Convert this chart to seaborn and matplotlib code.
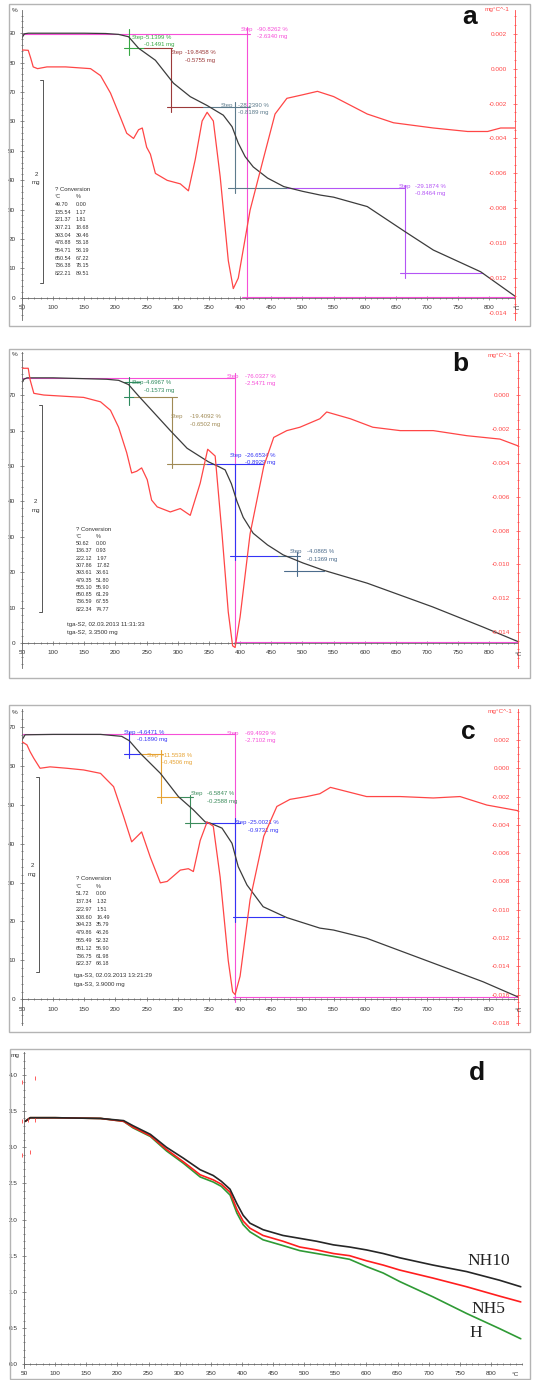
import matplotlib
matplotlib.use('Agg')
import matplotlib.pyplot as plt
import seaborn as sns
from matplotlib.patches import Rectangle
from matplotlib.ticker import MultipleLocator

# ---------------- data ----------------
# panel a: TG curve (%), DTG curve (mg/°C)
a_tg_t = [50, 54, 60, 100, 150, 184, 205, 221, 237, 264, 293, 320, 347, 373, 387, 397, 408, 421,
          444, 470, 500, 529, 550, 604, 665, 710, 786, 841]
a_tg_pct = [88.5, 89.8, 90.0, 90.0, 90.0, 89.9, 89.6, 88.8, 84.9, 80.8, 73.0, 68.4, 65.4, 62.1,
            58.2, 52.6, 48.0, 44.5, 40.7, 37.8, 36.2, 34.9, 34.2, 31.0, 22.4, 16.2, 8.8, 0.5]
a_dtg_t = [50, 60, 64, 68, 75, 90, 120, 160, 176, 192, 208, 218, 229, 237, 243, 250, 256, 264,
           283, 304, 317, 328, 339, 347, 357, 368, 381, 389, 397, 416, 437, 456, 475, 500, 524,
           550, 604, 646, 710, 765, 797, 818, 841]
a_dtg_v = [0.00107, 0.00105, 0.0006, 0.0001, 0.0, 0.0001, 0.0001, 0.0, -0.0004, -0.0014, -0.0028,
           -0.0037, -0.0040, -0.0035, -0.0034, -0.0045, -0.0049, -0.0060, -0.0064, -0.0066,
           -0.0070, -0.0052, -0.0030, -0.0025, -0.0030, -0.0062, -0.0110, -0.0126, -0.0120,
           -0.0081, -0.0052, -0.0026, -0.0017, -0.0015, -0.0013, -0.0016, -0.0026, -0.0031,
           -0.0034, -0.0036, -0.0036, -0.0034, -0.0034]
a_conv_t = [49.70, 135.54, 221.37, 307.21, 393.04, 478.88, 564.71, 650.54, 736.38, 822.21]
a_conv_p = [0.00, 1.17, 1.81, 18.68, 39.46, 53.18, 58.19, 67.22, 78.15, 89.51]

# panel b
b_tg_t = [50, 53, 58, 100, 186, 205, 221, 237, 262, 288, 315, 349, 366, 376, 386, 395, 405, 421,
          444, 469, 501, 533, 604, 709, 790, 846]
b_tg_pct = [73.5, 74.5, 74.9, 74.9, 74.5, 74.2, 73.0, 69.8, 65.0, 60.0, 55.0, 51.2, 49.8, 48.9,
            45.0, 40.0, 35.5, 31.0, 27.7, 24.9, 22.6, 20.6, 16.9, 10.2, 4.5, 0.4]
b_dtg_t = [50, 60, 63, 69, 85, 149, 176, 192, 205, 218, 226, 234, 242, 251, 258, 267, 288, 304,
           320, 336, 348, 360, 371, 381, 388, 392, 400, 416, 438, 454, 475, 496, 528, 539, 577,
           613, 657, 710, 764, 817, 846]
b_dtg_v = [0.00158, 0.00158, 0.0009, 0.0001, 0.0, -0.00014, -0.0004, -0.0009, -0.0019, -0.0034,
           -0.0046, -0.0045, -0.0043, -0.0050, -0.0062, -0.0066, -0.0069, -0.0067, -0.0071,
           -0.0052, -0.0032, -0.0036, -0.0082, -0.0128, -0.0148, -0.0149, -0.0131, -0.0082,
           -0.0042, -0.0025, -0.0021, -0.0019, -0.0014, -0.0010, -0.0014, -0.0019, -0.0021,
           -0.0021, -0.0024, -0.0026, -0.0030]
b_conv_t = [50.62, 136.37, 222.12, 307.86, 393.61, 479.35, 565.10, 650.85, 736.59, 822.34]
b_conv_p = [0.00, 0.93, 1.97, 17.82, 38.61, 51.80, 55.90, 61.29, 67.55, 74.77]

# panel c
c_tg_t = [50, 55, 100, 176, 210, 222, 240, 272, 301, 325, 344, 352, 371, 387, 397, 411, 437, 464,
          475, 528, 550, 603, 710, 790, 846]
c_tg_pct = [66.7, 68.0, 68.1, 68.1, 67.6, 66.5, 63.2, 58.1, 52.1, 48.7, 45.6, 45.3, 44.0, 40.1,
            34.1, 29.4, 23.8, 21.8, 21.0, 18.3, 17.8, 15.7, 9.3, 4.5, 0.6]
c_dtg_t = [50, 58, 63, 69, 79, 95, 122, 149, 176, 197, 213, 226, 242, 256, 272, 283, 304, 317,
           325, 336, 347, 357, 368, 381, 388, 392, 400, 416, 438, 459, 480, 507, 528, 545, 603,
           657, 710, 753, 796, 846]
c_dtg_v = [0.00188, 0.00165, 0.00117, 0.0007, 0.0, 0.0001, 0.0, -0.00012, -0.00036, -0.0013,
           -0.0034, -0.0052, -0.0045, -0.0063, -0.0081, -0.0080, -0.0072, -0.0071, -0.0073,
           -0.0051, -0.0038, -0.0041, -0.0077, -0.0136, -0.0158, -0.0160, -0.0147, -0.0093,
           -0.0048, -0.0027, -0.0022, -0.0020, -0.0018, -0.00135, -0.0020, -0.0020, -0.0021,
           -0.0020, -0.0026, -0.0030]
c_conv_t = [51.72, 137.34, 222.97, 308.60, 394.23, 479.86, 565.49, 651.12, 736.75, 822.37]
c_conv_p = [0.00, 1.32, 1.51, 16.49, 35.79, 48.26, 52.32, 56.90, 61.98, 68.18]

# panel d: mass (mg) of the three samples
d_t = [52, 60, 100, 173, 210, 225, 253, 279, 306, 333, 354, 367, 381, 392, 402, 413, 434, 466,
       493, 520, 547, 573, 600, 627, 654, 707, 761, 814, 848]
d_nh10 = [3.36, 3.41, 3.41, 3.40, 3.37, 3.30, 3.18, 3.00, 2.85, 2.69, 2.61, 2.53, 2.42, 2.22,
          2.06, 1.95, 1.86, 1.78, 1.74, 1.70, 1.65, 1.62, 1.58, 1.53, 1.47, 1.37, 1.28, 1.16, 1.07]
d_nh5 = [3.36, 3.41, 3.41, 3.40, 3.36, 3.28, 3.16, 2.97, 2.80, 2.62, 2.55, 2.49, 2.38, 2.14,
         1.98, 1.88, 1.78, 1.70, 1.62, 1.58, 1.53, 1.50, 1.43, 1.37, 1.30, 1.19, 1.07, 0.94, 0.86]
d_h = [3.36, 3.41, 3.41, 3.40, 3.36, 3.27, 3.15, 2.95, 2.78, 2.59, 2.52, 2.46, 2.34, 2.09,
       1.93, 1.83, 1.72, 1.64, 1.57, 1.53, 1.49, 1.45, 1.35, 1.26, 1.14, 0.93, 0.70, 0.49, 0.35]
d_mark_t = [46, 68, 46, 57, 68, 46, 60]
d_mark_mg = [3.91, 3.96, 3.36, 3.38, 3.38, 2.89, 2.93]

x_ticks = list(range(50, 801, 50))
a_yticks = [0, 10, 20, 30, 40, 50, 60, 70, 80, 90]
bc_yticks = [0, 10, 20, 30, 40, 50, 60, 70]
a_rticks = [0.002, 0.000, -0.002, -0.004, -0.006, -0.008, -0.010, -0.012, -0.014]
b_rticks = [0.000, -0.002, -0.004, -0.006, -0.008, -0.010, -0.012, -0.014]
c_rticks = [0.002, 0.000, -0.002, -0.004, -0.006, -0.008, -0.010, -0.012, -0.014, -0.016, -0.018]
d_yticks = [0.0, 0.5, 1.0, 1.5, 2.0, 2.5, 3.0, 3.5, 4.0]

# colours
RED = '#ff4646'
BLK = '#3c3c3c'
MAG = '#f64fd8'
GRN_A = '#38a845'
DRED = '#9c3a3a'
SLATE_A = '#5d7b8c'
VIO = '#b455f5'
GRN_B = '#2e8a5e'
BRN = '#a08a55'
BLUE = '#3434f5'
SLATE_B = '#4c6c8c'
ORG = '#e6a232'
GRN_C = '#3c8c5c'

# step evaluation lines (x0, x1, y0, y1, colour) and labels (x, y, text, colour)
a_steps = [(50, 416, 89.9, 89.9, MAG), (411, 411, 92.2, -0.6, MAG), (403, 841, 0.3, 0.3, MAG),
           (213, 245, 84.8, 84.8, GRN_A), (221, 221, 91.5, 82.5, GRN_A),
           (245, 290, 84.8, 84.8, DRED), (289, 289, 84.8, 63.3, DRED), (282, 341, 65.0, 65.0, DRED),
           (341, 416, 65.0, 65.0, SLATE_A), (391, 391, 66.7, 35.5, SLATE_A),
           (381, 475, 37.2, 37.2, SLATE_A),
           (475, 665, 37.2, 37.2, VIO), (665, 665, 38.3, 6.6, VIO), (657, 790, 8.3, 8.3, VIO)]
a_notes = [(226, 88.6, 'Step', GRN_A), (245, 88.6, '-5.1399 %', GRN_A), (245, 86.1, '-0.1491 mg', GRN_A),
           (289, 83.3, 'Step', DRED), (312, 83.3, '-19.8458 %', DRED), (312, 80.6, '-0.5755 mg', DRED),
           (368, 65.5, 'Step', SLATE_A), (396, 65.5, '-28.2390 %', SLATE_A),
           (396, 63.0, '-0.8189 mg', SLATE_A),
           (401, 91.3, 'Step', MAG), (427, 91.3, '-90.8262 %', MAG), (427, 88.8, '-2.6340 mg', MAG),
           (654, 38.0, 'Step', VIO), (681, 38.0, '-29.1874 %', VIO), (681, 35.3, '-0.8464 mg', VIO)]

b_steps = [(50, 392, 74.9, 74.9, MAG), (392, 392, 76.2, -0.6, MAG), (392, 846, 0.4, 0.4, MAG),
           (213, 240, 73.8, 73.8, GRN_B), (221, 221, 75.2, 67.2, GRN_B), (213, 229, 69.6, 69.6, GRN_B),
           (229, 299, 69.6, 69.6, BRN), (291, 291, 69.6, 49.3, BRN), (283, 347, 50.6, 50.6, BRN),
           (347, 437, 50.6, 50.6, BLUE), (392, 392, 50.6, 23.4, BLUE), (384, 461, 24.5, 24.5, BLUE),
           (461, 496, 24.5, 24.5, SLATE_B), (491, 491, 25.8, 18.9, SLATE_B),
           (470, 534, 20.3, 20.3, SLATE_B)]
b_notes = [(226, 73.5, 'Step', GRN_B), (245, 73.5, '-4.6967 %', GRN_B), (245, 71.4, '-0.1573 mg', GRN_B),
           (379, 75.4, 'Step', MAG), (408, 75.4, '-76.0327 %', MAG), (408, 73.3, '-2.5471 mg', MAG),
           (288, 63.9, 'Step', BRN), (320, 63.9, '-19.4092 %', BRN), (320, 61.6, '-0.6502 mg', BRN),
           (384, 53.1, 'Step', BLUE), (408, 53.1, '-26.6534 %', BLUE), (408, 50.9, '-0.8929 mg', BLUE),
           (480, 25.8, 'Step', SLATE_B), (507, 25.8, '-4.0865 %', SLATE_B),
           (507, 23.6, '-0.1369 mg', SLATE_B)]

c_steps = [(50, 392, 68.1, 68.1, MAG), (392, 392, 68.8, -0.6, MAG), (389, 846, 0.7, 0.7, MAG),
           (221, 221, 68.8, 62.0, BLUE), (213, 240, 63.0, 63.0, BLUE),
           (240, 277, 63.0, 63.0, ORG), (273, 273, 64.1, 50.4, ORG), (266, 304, 51.9, 51.9, ORG),
           (304, 325, 51.9, 51.9, GRN_C), (320, 320, 52.5, 44.4, GRN_C), (312, 344, 45.4, 45.4, GRN_C),
           (344, 400, 45.4, 45.4, BLUE), (392, 392, 46.5, 19.9, BLUE), (389, 470, 21.1, 21.1, BLUE)]
c_notes = [(213, 68.6, 'Step', BLUE), (234, 68.6, '-4.6471 %', BLUE), (234, 66.7, '-0.1890 mg', BLUE),
           (379, 68.4, 'Step', MAG), (408, 68.4, '-69.4929 %', MAG), (408, 66.5, '-2.7102 mg', MAG),
           (250, 62.8, 'Step', ORG), (274, 62.8, '-11.5538 %', ORG), (274, 60.8, '-0.4506 mg', ORG),
           (320, 52.8, 'Step', GRN_C), (347, 52.8, '-6.5847 %', GRN_C), (347, 50.8, '-0.2588 mg', GRN_C),
           (392, 45.4, 'Step', BLUE), (413, 45.4, '-25.0021 %', BLUE), (413, 43.3, '-0.9731 mg', BLUE)]

# ---------------- figure ----------------
sns.set_style('ticks')
plt.rcParams['font.family'] = ['Liberation Sans', 'DejaVu Sans']

W, H = 534, 1380
fig = plt.figure(figsize=(W / 100, H / 100), dpi=100)


def px_rect(l, t, r, b):
    return [l / W, 1 - b / H, (r - l) / W, (b - t) / H]


def fig_text(x, y, s, **kw):
    fig.text(x / W, 1 - y / H, s, **kw)


def frame(l, t, r, b):
    fig.add_artist(Rectangle((l / W, 1 - b / H), (r - l) / W, (b - t) / H,
                             transform=fig.transFigure, fill=False, ec='#b4b4b4', lw=1.0))


def style_left(ax, xmax, ylim, yticks, yminor, fmt):
    ax.set_xlim(50, xmax)
    ax.set_ylim(*ylim)
    ax.set_xlabel('')
    ax.set_ylabel('')
    ax.tick_params(which='both', direction='inout', width=0.5, colors='#666666',
                   labelsize=4.6, labelcolor='#333333')
    ax.tick_params(which='major', length=3.5)
    ax.tick_params(which='minor', length=1.8)
    ax.tick_params(axis='y', pad=3.0)
    ax.tick_params(axis='x', pad=3.5)
    ax.set_xticks(x_ticks)
    ax.set_xticklabels([str(v) for v in x_ticks])
    ax.xaxis.set_minor_locator(MultipleLocator(10))
    ax.set_yticks(yticks)
    ax.set_yticklabels([fmt.format(v) for v in yticks])
    ax.yaxis.set_minor_locator(MultipleLocator(yminor))
    ax.spines['bottom'].set_position(('data', 0))
    for s in ['top', 'right']:
        ax.spines[s].set_visible(False)
    for s in ['left', 'bottom']:
        ax.spines[s].set_color('#666666')
        ax.spines[s].set_linewidth(0.6)


def tga_panel(rect, xmax, ylim, yticks, rylim, rticks, tg_t, tg_pct, dtg_t, dtg_v, steps, notes):
    ax = fig.add_axes(rect)
    ax2 = ax.twinx()
    for x0, x1, y0, y1, c in steps:
        ax.plot([x0, x1], [y0, y1], color=c, lw=0.8, clip_on=False)
    sns.lineplot(x=tg_t, y=tg_pct, ax=ax, color=BLK, linewidth=0.9, estimator=None)
    sns.lineplot(x=dtg_t, y=dtg_v, ax=ax2, color=RED, linewidth=0.9, estimator=None)
    for x, y, s, c in notes:
        ax.text(x, y, s, color=c, fontsize=4.3, ha='left', va='center')
    style_left(ax, xmax, ylim, yticks, 2, '{:d}')
    ax2.set_ylim(*rylim)
    ax2.set_ylabel('')
    ax2.tick_params(axis='y', which='both', direction='inout', width=0.5, colors=RED,
                    labelsize=4.6, pad=-7.3)
    ax2.tick_params(axis='y', which='major', length=3.5)
    ax2.tick_params(axis='y', which='minor', length=1.8)
    ax2.set_yticks(rticks)
    ax2.set_yticklabels(['{:.3f}'.format(v) for v in rticks], ha='right')
    ax2.yaxis.set_minor_locator(MultipleLocator(0.0005))
    for s in ['top', 'bottom', 'left']:
        ax2.spines[s].set_visible(False)
    ax2.spines['right'].set_color(RED)
    ax2.spines['right'].set_linewidth(0.6)
    return ax, ax2


def conv_table(ax, x1, x2, y0, dy, temps, pcts, extra=None, ex=None, ey=None):
    kw = dict(fontsize=3.9, color='#333333', ha='left', va='center')
    ax.text(x1, y0, '? Conversion', **dict(kw, fontsize=4.3))
    ax.text(x1, y0 - dy, '°C', **kw)
    ax.text(x2, y0 - dy, '%', **kw)
    for i, (t, p) in enumerate(zip(temps, pcts)):
        y = y0 - dy * (i + 2)
        ax.text(x1, y, '{:.2f}'.format(t), **kw)
        ax.text(x2, y, '{:.2f}'.format(p), **kw)
    if extra:
        for j, s in enumerate(extra):
            ax.text(ex, ey - j * dy * 1.1, s, **dict(kw, fontsize=4.4))


def scale_bar(ax, x, y_top, y_bot, cap, lx, ly, ldy):
    ax.plot([x - cap, x, x, x - cap], [y_top, y_top, y_bot, y_bot], color='#555555', lw=0.7)
    ax.text(lx, ly, '2', fontsize=4.4, color='#333333', ha='center', va='center')
    ax.text(lx, ly - ldy, 'mg', fontsize=4.4, color='#333333', ha='center', va='center')


# frames of the four panels
frame(9, 4, 530, 326)
frame(9, 349, 530, 678)
frame(9, 705, 530, 1032)
frame(10, 1049, 530, 1379)

# ---- panel a ----
ax_a, ax_a2 = tga_panel(px_rect(22, 10, 515, 320), 841, (-7.6, 97.9), a_yticks,
                        (-0.01440, 0.00336), a_rticks, a_tg_t, a_tg_pct, a_dtg_t, a_dtg_v,
                        a_steps, a_notes)
conv_table(ax_a, 103, 136, 36.9, 2.6, a_conv_t, a_conv_p)
scale_bar(ax_a, 84, 74.0, 5.0, 5, 73, 42.0, 2.9)

# ---- panel b ----
ax_b, ax_b2 = tga_panel(px_rect(22, 352, 518, 668), 846, (-7.06, 82.2), bc_yticks,
                        (-0.01611, 0.00254), b_rticks, b_tg_t, b_tg_pct, b_dtg_t, b_dtg_v,
                        b_steps, b_notes)
conv_table(ax_b, 136, 169, 32.2, 2.06, b_conv_t, b_conv_p,
           extra=['tga-S2, 02.03.2013 11:31:33', 'tga-S2, 3.3500 mg'], ex=122, ey=5.3)
scale_bar(ax_b, 82, 67.2, 8.8, 5, 72, 40.1, 2.6)

# ---- panel c ----
ax_c, ax_c2 = tga_panel(px_rect(22, 709, 518, 1025), 846, (-6.61, 74.63), bc_yticks,
                        (-0.01815, 0.00419), c_rticks, c_tg_t, c_tg_pct, c_dtg_t, c_dtg_v,
                        c_steps, c_notes)
conv_table(ax_c, 136, 169, 31.1, 2.0, c_conv_t, c_conv_p,
           extra=['tga-S3, 02.03.2013 13:21:29', 'tga-S3, 3.9000 mg'], ex=133, ey=6.1)
scale_bar(ax_c, 77, 57.2, 7.1, 5, 66, 34.5, 2.3)

# ---- panel d ----
ax_d = fig.add_axes(px_rect(24, 1052, 522, 1368))
sns.lineplot(x=d_t, y=d_h, ax=ax_d, color='#2f9a35', linewidth=1.2, estimator=None)
sns.lineplot(x=d_t, y=d_nh5, ax=ax_d, color='#ff1e1e', linewidth=1.2, estimator=None)
sns.lineplot(x=d_t, y=d_nh10, ax=ax_d, color='#262626', linewidth=1.2, estimator=None)
ax_d.plot(d_mark_t, d_mark_mg, ls='none', marker='|', ms=3, mew=0.6, color='#ff4040', clip_on=False)
style_left(ax_d, 850, (-0.055, 4.32), d_yticks, 0.1, '{:.1f}')
serif = dict(fontsize=12.5, family='Liberation Serif', color='#222222', ha='left', va='center')
ax_d.text(763, 1.42, 'NH10', **serif)
ax_d.text(769, 0.76, 'NH5', **serif)
ax_d.text(766, 0.425, 'H', **serif)

# unit labels and panel letters
small = dict(fontsize=4.6, ha='center', va='center', color='#333333')
fig_text(15, 10, '%', **small)
fig_text(15, 355, '%', **small)
fig_text(15, 712, '%', **small)
fig_text(15, 1055, 'mg', **small)
fig_text(497, 10, 'mg°C^-1', **dict(small, color=RED))
fig_text(500, 355, 'mg°C^-1', **dict(small, color=RED))
fig_text(500, 712, 'mg°C^-1', **dict(small, color=RED))
fig_text(516, 309, '°C', **small)
fig_text(518, 655, '°C', **small)
fig_text(518, 1011, '°C', **small)
fig_text(515, 1374, '°C', **small)

big = dict(fontsize=19, fontweight='bold', ha='center', va='center', color='#111111')
fig_text(470, 17, 'a', **big)
fig_text(460, 364, 'b', **big)
fig_text(468, 732, 'c', **big)
fig_text(477, 1073, 'd', **big)

fig.savefig('out.png', dpi=100)
